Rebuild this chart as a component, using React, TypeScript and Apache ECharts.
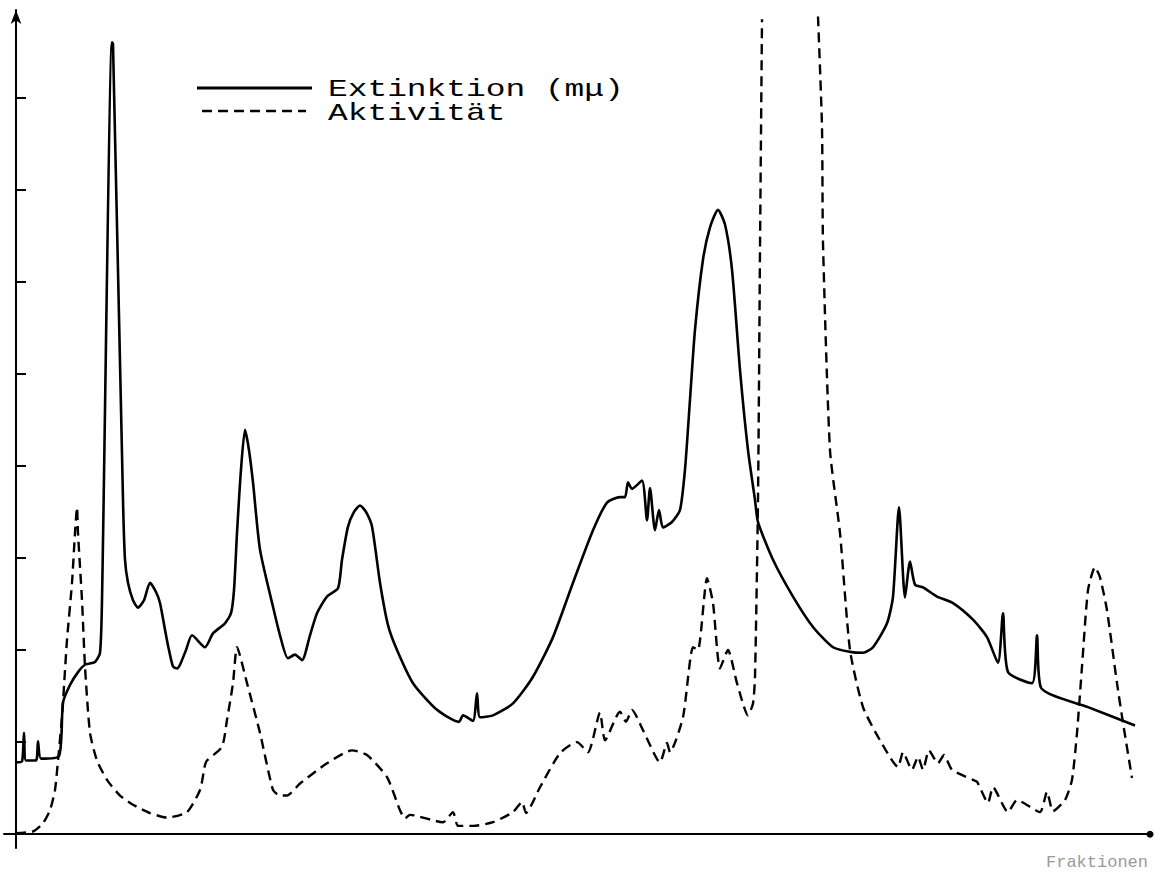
import React, { useEffect, useRef } from "react";
import * as echarts from "echarts";

// Fraktion (x), Extinktion (y, tick units)
const extinktionPoints: [number, number][] = [
  [0.0, 0.78], [0.6, 0.79], [0.8, 1.10], [1.0, 0.80], [2.0, 0.80], [2.2, 1.01], [2.5, 0.82],
  [4.3, 0.85], [4.7, 1.43], [5.4, 1.62], [6.2, 1.76], [6.9, 1.84], [7.9, 1.87], [8.4, 1.97],
  [8.6, 2.54], [9.6, 8.60], [9.7, 8.58], [10.7, 3.63], [10.9, 2.98], [11.2, 2.73], [11.7, 2.54],
  [12.2, 2.46], [12.8, 2.54], [13.4, 2.73], [14.0, 2.63], [14.4, 2.51], [14.9, 2.22], [15.2, 2.05],
  [15.7, 1.82], [16.1, 1.80], [16.4, 1.84], [17.0, 2.00], [17.6, 2.16], [18.9, 2.03], [19.7, 2.18],
  [20.9, 2.29], [21.5, 2.40], [21.8, 2.65], [22.1, 3.27], [22.5, 3.96], [22.9, 4.39], [23.3, 4.17],
  [23.7, 3.82], [24.4, 3.09], [25.7, 2.47], [26.4, 2.16], [27.2, 1.91], [27.9, 1.95], [28.6, 1.89],
  [29.4, 2.16], [30.1, 2.40], [31.1, 2.58], [32.2, 2.67], [32.6, 2.98], [33.2, 3.34], [33.8, 3.50],
  [34.4, 3.57], [35.0, 3.50], [35.6, 3.34], [36.4, 2.73], [37.2, 2.27], [38.1, 2.00], [39.7, 1.64],
  [42.1, 1.35], [44.3, 1.22], [44.7, 1.29], [45.7, 1.23], [46.1, 1.53], [46.4, 1.27], [47.7, 1.29],
  [49.7, 1.42], [51.7, 1.71], [53.7, 2.14], [55.7, 2.73], [57.7, 3.30], [59.1, 3.60], [60.4, 3.66],
  [60.9, 3.66], [61.2, 3.82], [61.6, 3.75], [62.6, 3.84], [63.1, 3.41], [63.4, 3.76], [63.9, 3.30],
  [64.3, 3.52], [64.7, 3.33], [65.6, 3.39], [66.4, 3.52], [66.9, 3.96], [67.4, 4.72], [67.9, 5.48],
  [68.7, 6.24], [69.4, 6.59], [70.2, 6.78], [70.9, 6.62], [71.6, 6.13], [72.4, 5.04], [73.2, 4.17],
  [73.9, 3.63], [74.2, 3.39], [75.7, 2.98], [77.7, 2.58], [79.7, 2.25], [81.7, 2.03], [83.4, 1.98],
  [84.7, 1.97], [85.7, 2.03], [87.1, 2.29], [87.7, 2.58], [88.3, 3.55], [88.9, 2.57], [89.4, 2.96],
  [89.9, 2.71], [90.7, 2.68], [92.1, 2.58], [93.7, 2.51], [95.7, 2.33], [97.1, 2.14], [98.2, 1.86],
  [98.7, 2.40], [99.2, 1.76], [101.6, 1.64], [102.1, 2.16], [102.5, 1.59], [107.2, 1.38], [111.9, 1.18],
];

// Fraktion (x), Aktivität (y, tick units); '-' = off-scale gap
const aktivitaetPoints: [number, number | string][] = [
  [0, 0.01], [1.7, 0.03], [2.7, 0.12], [3.4, 0.26], [3.9, 0.48], [4.2, 0.80], [4.6, 1.27],
  [4.9, 1.78], [5.1, 2.11], [5.6, 2.73], [5.9, 3.27], [6.1, 3.55], [6.2, 3.27], [6.6, 2.54],
  [6.9, 1.82], [7.4, 1.10], [8.1, 0.80], [9.1, 0.59], [10.4, 0.42], [11.7, 0.32], [13.4, 0.23],
  [15.1, 0.18], [17.1, 0.24], [18.4, 0.48], [18.9, 0.75], [19.1, 0.80], [20.6, 0.95], [21.1, 1.24],
  [21.7, 1.64], [22.1, 2.03], [23.1, 1.64], [24.4, 1.10], [25.7, 0.48], [26.4, 0.42], [27.1, 0.42],
  [28.4, 0.55], [31.1, 0.77], [33.6, 0.91], [35.1, 0.86], [37.1, 0.62], [38.4, 0.26], [38.9, 0.17],
  [39.4, 0.21], [42.7, 0.13], [43.7, 0.24], [44.2, 0.09], [45.7, 0.09], [47.7, 0.13], [49.7, 0.24],
  [50.6, 0.35], [51.0, 0.23], [52.4, 0.51], [54.4, 0.88], [56.1, 1.00], [57.2, 0.89], [58.4, 1.32],
  [58.9, 1.02], [60.4, 1.33], [61.0, 1.22], [61.6, 1.35], [62.7, 1.13], [64.4, 0.78], [65.1, 0.99],
  [65.4, 0.89], [66.7, 1.27], [67.7, 2.03], [68.2, 2.00], [69.1, 2.78], [69.7, 2.51], [70.4, 1.80],
  [71.2, 2.00], [72.1, 1.64], [73.2, 1.29], [73.7, 1.42], [73.9, 1.71], [74.2, 3.63], [74.4, 6.35],
  [74.6, 8.85], [77.4, "-"], [80.2, 8.88], [80.6, 7.68], [80.7, 6.42], [81.4, 4.17], [82.4, 3.27],
  [83.4, 2.00], [84.7, 1.38], [86.4, 1.02], [88.2, 0.73], [88.7, 0.89], [89.6, 0.70], [90.2, 0.84],
  [90.7, 0.70], [91.3, 0.91], [92.2, 0.77], [92.8, 0.86], [93.6, 0.70], [95.7, 0.59], [96.1, 0.57],
  [97.2, 0.34], [97.7, 0.51], [99.2, 0.24], [100.1, 0.37], [102.4, 0.24], [103.1, 0.46], [103.7, 0.25],
  [104.9, 0.37], [105.6, 0.59], [106.1, 1.10], [106.6, 1.82], [107.2, 2.65], [107.9, 2.90], [108.4, 2.79],
  [109.1, 2.43], [110.1, 1.64], [110.7, 1.21], [111.6, 0.61],
];

const yTicks = [1, 2, 3, 4, 5, 6, 7, 8];
const legendNames = ["Extinktion (mμ)", "Aktivität"];
const xAxisName = "Fraktionen";

const MONO = "'Liberation Mono', 'DejaVu Sans Mono', monospace";

export default function App() {
  const ref = useRef<HTMLDivElement>(null);
  useEffect(() => {
    if (!ref.current) return;
    const chart = echarts.init(ref.current, undefined, { renderer: "svg" });
    chart.setOption({
      animation: false,
      backgroundColor: "#ffffff",
      grid: { left: 4, right: 4, top: 10, bottom: 32 },
      xAxis: {
        type: "value",
        min: -1.2,
        max: 113.4,
        axisLine: {
          onZero: true,
          lineStyle: { color: "#000", width: 2 },
          symbol: ["none", "circle"],
          symbolSize: [7, 7],
        },
        axisTick: { show: false },
        axisLabel: { show: false },
        splitLine: { show: false },
      },
      yAxis: {
        type: "value",
        min: -0.15,
        max: 8.95,
        axisLine: {
          show: true,
          onZero: true,
          lineStyle: { color: "#000", width: 2 },
          symbol: ["none", "arrow"],
          symbolSize: [8, 14],
        },
        axisTick: {
          show: true,
          inside: true,
          length: 10,
          customValues: yTicks,
          lineStyle: { color: "#000", width: 2 },
        },
        axisLabel: { show: false, customValues: yTicks },
        splitLine: { show: false },
      },
      series: [
        {
          name: legendNames[0],
          type: "line",
          data: extinktionPoints,
          showSymbol: false,
          symbol: "none",
          smooth: 0.22,
          lineStyle: { color: "#000", width: 2.6, join: "round" },
        },
        {
          name: legendNames[1],
          type: "line",
          data: aktivitaetPoints,
          showSymbol: false,
          symbol: "none",
          smooth: 0.2,
          connectNulls: false,
          lineStyle: { color: "#000", width: 2.4, type: [10, 6] },
        },
      ],
      graphic: [
        {
          type: "line",
          shape: { x1: 197, y1: 88, x2: 312, y2: 88 },
          style: { stroke: "#000", lineWidth: 3 },
        },
        {
          type: "line",
          shape: { x1: 202, y1: 111, x2: 306, y2: 111 },
          style: { stroke: "#000", lineWidth: 2.6, lineDash: [10, 6] },
        },
        {
          type: "text",
          x: 328,
          y: 90,
          scaleX: 1.37,
          style: {
            text: legendNames[0],
            fill: "#000",
            font: `24px ${MONO}`,
            verticalAlign: "middle",
            align: "left",
          },
        },
        {
          type: "text",
          x: 328,
          y: 114,
          scaleX: 1.37,
          style: {
            text: legendNames[1],
            fill: "#000",
            font: `24px ${MONO}`,
            verticalAlign: "middle",
            align: "left",
          },
        },
        {
          type: "text",
          x: 1046,
          y: 862,
          style: {
            text: xAxisName,
            fill: "#9a9a9a",
            font: `17px ${MONO}`,
            verticalAlign: "middle",
            align: "left",
          },
        },
      ],
    });
    return () => chart.dispose();
  }, []);
  return (
    <div
      ref={ref}
      style={{ position: "absolute", left: 0, top: 0, width: 1154, height: 880 }}
    />
  );
}
